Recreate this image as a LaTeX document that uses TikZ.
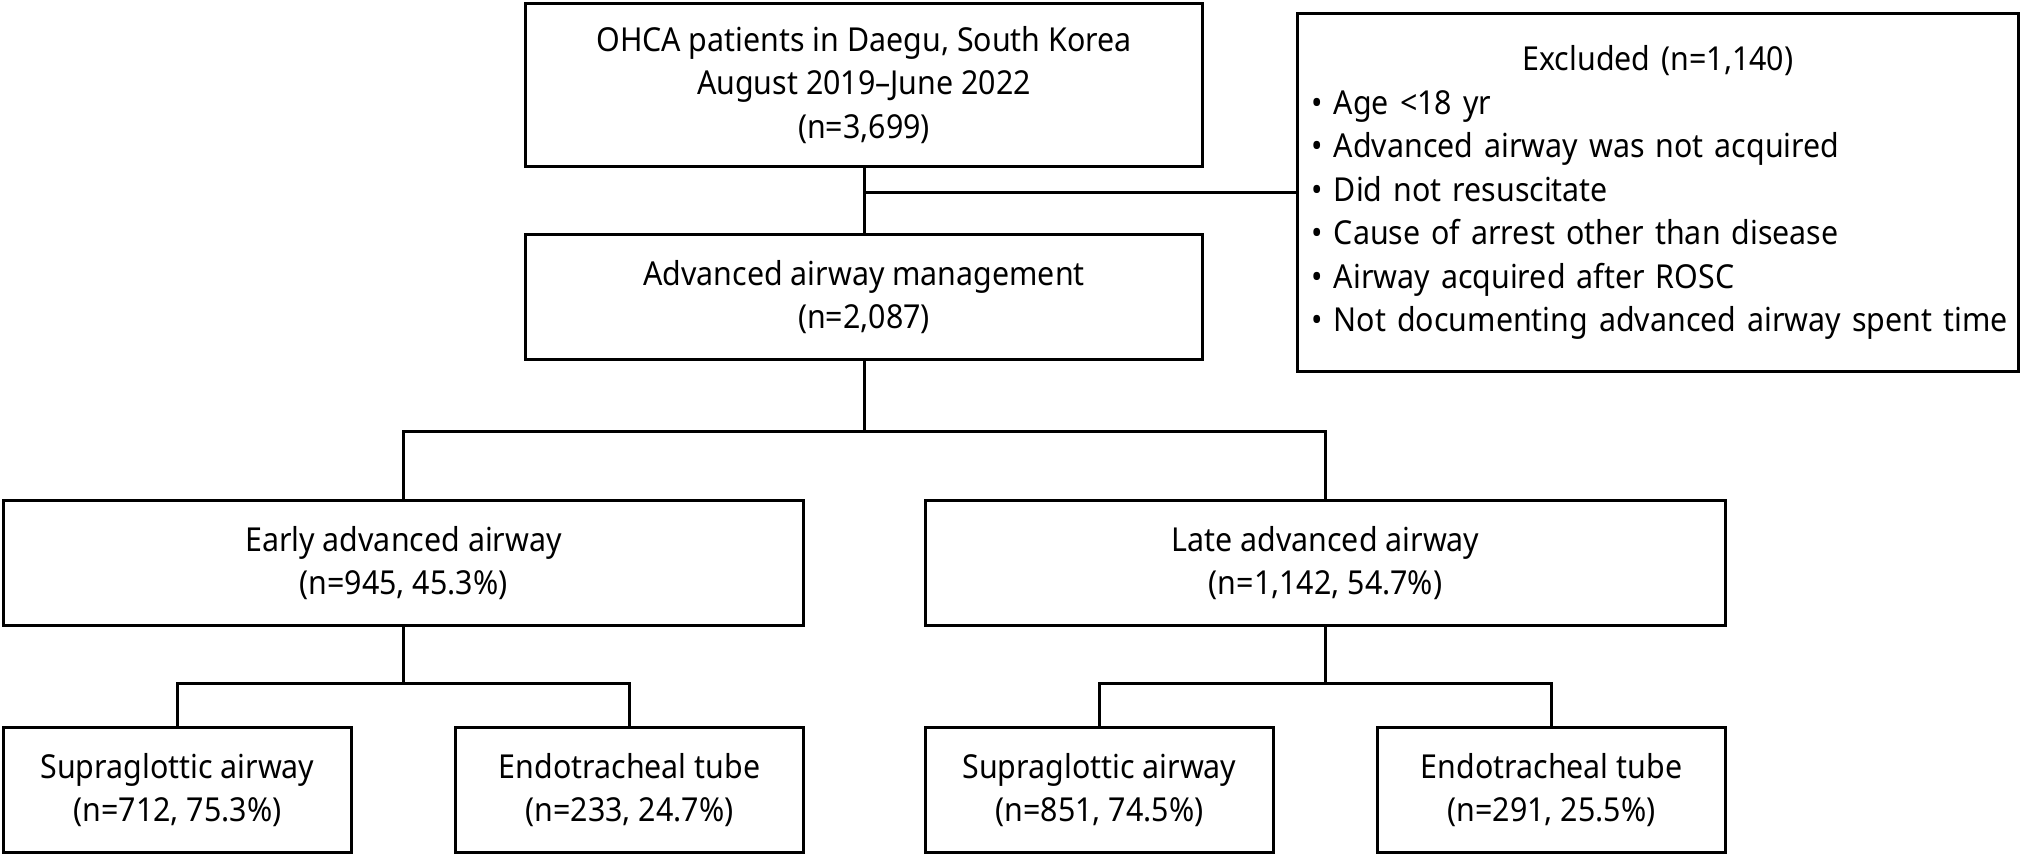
\documentclass[tikz,border=0pt]{standalone}
\usepackage{fontspec}
\setmainfont{Noto Sans}[FakeStretch=0.92]
\begin{document}
\begin{tikzpicture}[x=1pt,y=-1pt,
  fbox/.style={draw, line width=3.5pt, align=center, inner sep=0pt,
    font=\fontsize{33}{43.5}\selectfont},
  conn/.style={line width=3pt}]
\useasboundingbox (0,0) rectangle (2023,856);
\node[fbox, minimum width=677, minimum height=163] (top) at (864,85)
  {OHCA patients in Daegu, South Korea\\August 2019–June 2022\\(n=3,699)};
\node[fbox, minimum width=721, minimum height=358, text width=693, inner xsep=14pt, align=left] (excl) at (1658,192.5)
  {\makebox[693pt][c]{Excluded (n=1,140)}\\
   • Age <18 yr\\
   • Advanced airway was not acquired\\
   • Did not resuscitate\\
   • Cause of arrest other than disease\\
   • Airway acquired after ROSC\\
   \mbox{• Not documenting advanced airway spent time}};
\node[fbox, minimum width=677, minimum height=125] (aam) at (864,297)
  {Advanced airway management\\(n=2,087)};
\node[fbox, minimum width=800, minimum height=125] (early) at (403.5,563)
  {Early advanced airway\\(n=945, 45.3\%)};
\node[fbox, minimum width=800, minimum height=125] (late) at (1325.5,563)
  {Late advanced airway\\(n=1,142, 54.7\%)};
\node[fbox, minimum width=348, minimum height=125] (es) at (177.5,790)
  {Supraglottic airway\\(n=712, 75.3\%)};
\node[fbox, minimum width=348, minimum height=125] (ee) at (629.5,790)
  {Endotracheal tube\\(n=233, 24.7\%)};
\node[fbox, minimum width=348, minimum height=125] (ls) at (1099.5,790)
  {Supraglottic airway\\(n=851, 74.5\%)};
\node[fbox, minimum width=348, minimum height=125] (le) at (1551.5,790)
  {Endotracheal tube\\(n=291, 25.5\%)};
\coordinate (j1) at (864,192);
\coordinate (b1) at (864,431);
\coordinate (b2) at (403.5,683);
\coordinate (b3) at (1325.5,683);
\draw[conn] (top.south) -- (aam.north);
\draw[conn] (j1) -- (j1 -| excl.west);
\draw[conn] (aam.south) -- (b1);
\draw[conn] (early.north) |- (b1) -| (late.north);
\draw[conn] (early.south) -- (b2);
\draw[conn] (es.north) |- (b2) -| (ee.north);
\draw[conn] (late.south) -- (b3);
\draw[conn] (ls.north) |- (b3) -| (le.north);
\end{tikzpicture}
\end{document}
